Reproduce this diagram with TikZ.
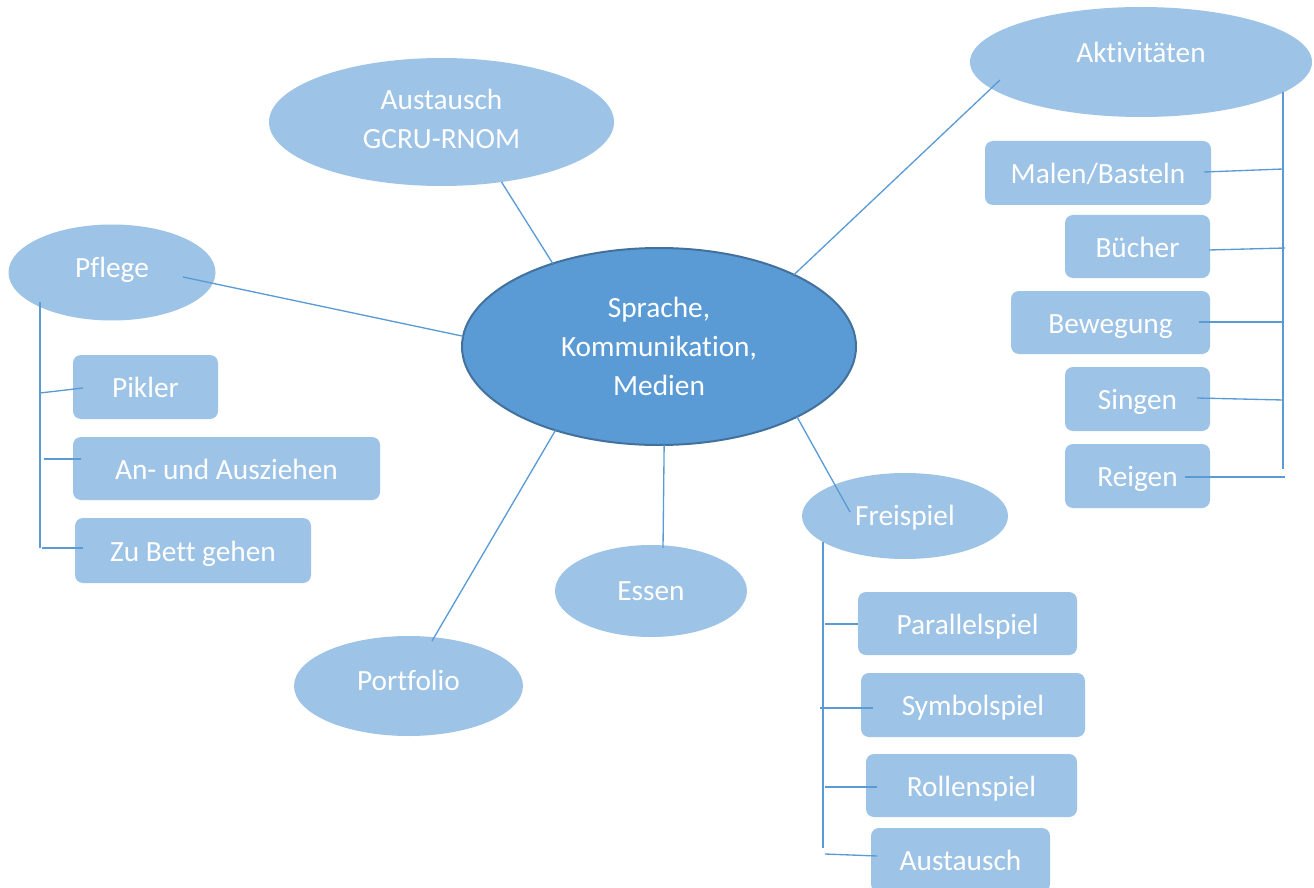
\documentclass[tikz,border=0pt]{standalone}
\usepackage{fontspec}
\setmainfont{Carlito}[Ligatures=NoCommon]
\usetikzlibrary{shapes.geometric}
\definecolor{lightblue}{HTML}{9DC3E6}
\definecolor{midblue}{HTML}{5B9BD5}
\definecolor{darkblue}{HTML}{41719C}
\def\pxu{0.75pt}
\newcommand\liftby[2]{\raisebox{#1pt}[\height][\depth]{#2}}
\begin{document}
\begin{tikzpicture}[x=0.75pt,y=-0.75pt,
  every node/.style={font=\fontsize{22pt}{29pt}\selectfont, text=white, inner sep=0pt, outer sep=0pt},
  oval/.style={ellipse, fill=lightblue},
  one/.style={text height=14.1pt, text depth=0pt},
  box/.style={rectangle, rounded corners=6pt, fill=lightblue, text height=16.3pt, text depth=0pt},
  link/.style={draw=midblue, line width=1pt}]
\useasboundingbox (0,0) rectangle (1314,888);

% main ellipse
\node[ellipse, fill=midblue, draw=darkblue, line width=1.5pt, align=center,
      minimum width=394*\pxu, minimum height=197*\pxu] (main) at (659,346.5)
      {Sprache,\\Kommunikation,\\Medien};

% satellite ellipses
\node[oval, align=center, minimum width=345*\pxu, minimum height=128*\pxu] (aus) at (441.5,122) {\liftby{2.25}{Austausch}\\\liftby{2.25}{GCRU-RNOM}};
\node[oval, one, minimum width=342*\pxu, minimum height=110*\pxu] (akt) at (1141,62) {\liftby{6.4}{Aktivitäten}};
\node[oval, one, minimum width=207*\pxu, minimum height=96*\pxu] (pfl) at (112,272.5) {\liftby{3}{Pflege}};
\node[oval, one, minimum width=206*\pxu, minimum height=86*\pxu] (frei) at (905,516) {Freispiel};
\node[oval, one, minimum width=192*\pxu, minimum height=92*\pxu] (ess) at (651,591) {Essen};
\node[oval, one, minimum width=229*\pxu, minimum height=100*\pxu] (port) at (408.5,686) {\liftby{3.75}{Portfolio}};

% Aktivitaeten boxes
\node[box, minimum width=226*\pxu, minimum height=64*\pxu] (malen) at (1098,173) {Malen/Basteln};
\node[box, minimum width=145*\pxu, minimum height=63*\pxu] (buch) at (1137.5,246.5) {Bücher};
\node[box, minimum width=199*\pxu, minimum height=63*\pxu] (beweg) at (1110.5,322.5) {Bewegung};
\node[box, minimum width=145*\pxu, minimum height=64*\pxu] (sing) at (1137.5,399) {Singen};
\node[box, minimum width=145*\pxu, minimum height=64*\pxu] (reig) at (1137.5,476) {Reigen};

% Pflege boxes
\node[box, minimum width=145*\pxu, minimum height=64*\pxu] (pikler) at (145.5,387) {Pikler};
\node[box, minimum width=307*\pxu, minimum height=63*\pxu] (anaus) at (226.5,468.5) {An- und Ausziehen};
\node[box, minimum width=236*\pxu, minimum height=65*\pxu] (bett) at (193,550.5) {Zu Bett gehen};

% Freispiel boxes
\node[box, minimum width=219*\pxu, minimum height=63*\pxu] (para) at (967.5,623.5) {Parallelspiel};
\node[box, minimum width=224*\pxu, minimum height=64*\pxu] (symb) at (973,705) {Symbolspiel};
\node[box, minimum width=211*\pxu, minimum height=63*\pxu] (roll) at (971.5,785.5) {Rollenspiel};
\node[box, minimum width=179*\pxu, minimum height=64*\pxu] (aust) at (960.5,860) {Austausch};

% named points for connector ends
\coordinate (akt-in) at (1000,80);
\coordinate (pfl-in) at (183,277);
\coordinate (frei-in) at (850,512);
\coordinate (ess-in) at (663,548);
\coordinate (port-in) at (432,641);

\coordinate (akt-top) at (1283,92);
\coordinate (akt-bot) at (1283,469);
\coordinate (malen-in) at (1204,172);  \coordinate (malen-b) at (1283,169);
\coordinate (buch-in) at (1209,250);   \coordinate (buch-b) at (1285,248);
\coordinate (beweg-in) at (1199,322);  \coordinate (beweg-b) at (1283,322);
\coordinate (sing-in) at (1197,398);   \coordinate (sing-b) at (1283,400);
\coordinate (reig-in) at (1185,477);   \coordinate (reig-b) at (1285,477);

\coordinate (pfl-top) at (40,302);
\coordinate (pfl-bot) at (40,548);
\coordinate (pikler-b) at (40,393);    \coordinate (pikler-in) at (83,388);
\coordinate (anaus-b) at (44,459);     \coordinate (anaus-in) at (81,459);
\coordinate (bett-b) at (42,548);      \coordinate (bett-in) at (83,548);

\coordinate (frei-top) at (823,542);
\coordinate (frei-bot) at (823,848);
\coordinate (para-b) at (825,624);     \coordinate (para-in) at (858,624);
\coordinate (symb-b) at (820,708);     \coordinate (symb-in) at (873,708);
\coordinate (roll-b) at (825,787);     \coordinate (roll-in) at (877,787);
\coordinate (aust-b) at (825,854);     \coordinate (aust-in) at (877,856);

% connectors from main
\draw[link] (aus.-45.7) -- (main.142.6);
\draw[link] (akt-in) -- (main.28.9);
\draw[link] (pfl-in) -- (main.177.2);
\draw[link] (main.-27) -- (frei-in);
\draw[link] (main.-87.7) -- (ess-in);
\draw[link] (main.-141.6) -- (port-in);

% Aktivitaeten bracket
\draw[link] (akt-top) -- (akt-bot);
\draw[link] (malen-in) -- (malen-b);
\draw[link] (buch-in) -- (buch-b);
\draw[link] (beweg-in) -- (beweg-b);
\draw[link] (sing-in) -- (sing-b);
\draw[link] (reig-in) -- (reig-b);

% Pflege bracket
\draw[link] (pfl-top) -- (pfl-bot);
\draw[link] (pikler-b) -- (pikler-in);
\draw[link] (anaus-b) -- (anaus-in);
\draw[link] (bett-b) -- (bett-in);

% Freispiel bracket
\draw[link] (frei-top) -- (frei-bot);
\draw[link] (para-b) -- (para-in);
\draw[link] (symb-b) -- (symb-in);
\draw[link] (roll-b) -- (roll-in);
\draw[link] (aust-b) -- (aust-in);
\end{tikzpicture}
\end{document}
